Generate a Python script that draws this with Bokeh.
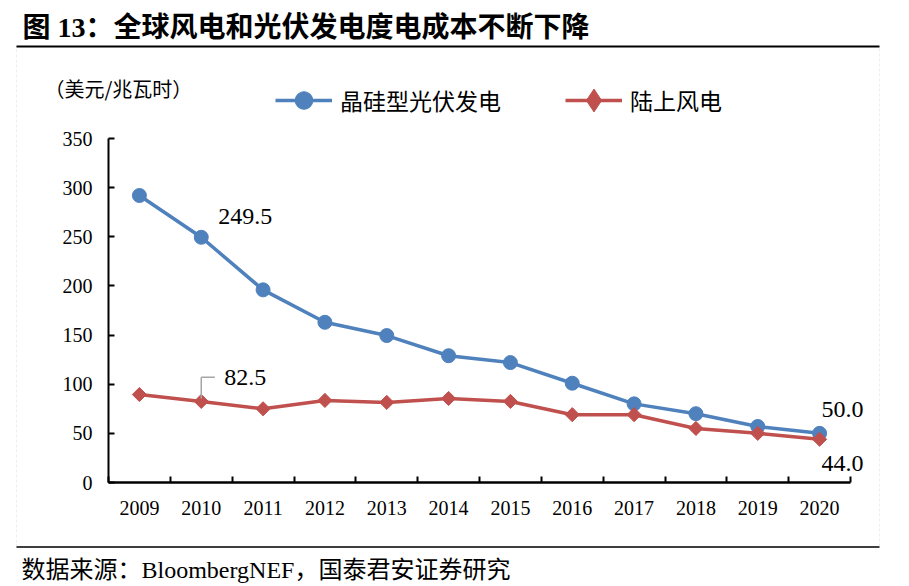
from bokeh.plotting import figure
from bokeh.models import (Range1d, FixedTicker, Label, Legend, LegendItem,
                          BoxAnnotation, Arrow)
from bokeh.embed import file_html
from bokeh.resources import INLINE
import math

# ---------------- data ----------------
years = ["2009", "2010", "2011", "2012", "2013", "2014",
         "2015", "2016", "2017", "2018", "2019", "2020"]
solar_pv = [292, 249.5, 196, 163, 149.5, 129, 122, 101, 80, 70, 57, 50.0]
onshore_wind = [89.5, 82.5, 75, 83.5, 81.5, 85.5, 82.5, 69, 69, 55, 50, 44.0]
y_ticks = [0, 50, 100, 150, 200, 250, 300, 350]

title_text = "图 13：全球风电和光伏发电度电成本不断下降"
unit_text = "（美元/兆瓦时）"
source_text = "数据来源：BloombergNEF，国泰君安证券研究"
solar_name = "晶硅型光伏发电"
wind_name = "陆上风电"

BLUE = "#4F81BD"
RED = "#C0504D"
SERIF = "Liberation Serif, Noto Sans CJK SC"

xs = [i + 0.5 for i in range(len(years))]
Y_MAX = y_ticks[-1]

# ---------------- geometry (canvas pixels) ----------------
W, H = 909, 586
AX_LEFT, AX_RIGHT = 108, 850      # x extent of the category axis
AX_BOTTOM, AX_TOP = 482, 138      # y pixel of value 0 and of value 350
cw = (AX_RIGHT - AX_LEFT) / len(years)
ppu = (AX_BOTTOM - AX_TOP) / Y_MAX

x_range = Range1d(-AX_LEFT / cw, (W - AX_LEFT) / cw)
y_range = Range1d(-(H - AX_BOTTOM) / ppu, AX_BOTTOM / ppu)

p = figure(width=W, height=H, output_backend="svg", toolbar_location=None,
           title=None, x_range=x_range, y_range=y_range,
           min_border=0, min_border_left=0, min_border_right=0,
           min_border_top=0, min_border_bottom=0)
p.grid.visible = False
p.outline_line_color = None
p.background_fill_color = "white"
p.border_fill_color = "white"

# x axis: labels at category centres, tick marks on category boundaries
xa = p.xaxis[0]
xa.fixed_location = 0
xa.bounds = (0, len(years))
xa.ticker = FixedTicker(ticks=xs, minor_ticks=list(range(len(years) + 1)))
xa.major_label_overrides = {x: y for x, y in zip(xs, years)}
xa.axis_line_width = 2.5
xa.axis_line_color = "black"
xa.major_tick_in = 0
xa.major_tick_out = 0
xa.minor_tick_in = 6
xa.minor_tick_out = 0
xa.minor_tick_line_width = 2
xa.minor_tick_line_color = "black"
xa.major_label_standoff = 18
xa.major_label_text_font = SERIF
xa.major_label_text_font_size = "20px"
xa.major_label_text_color = "black"

ya = p.yaxis[0]
ya.fixed_location = 0
ya.bounds = (0, Y_MAX)
ya.ticker = FixedTicker(ticks=y_ticks, minor_ticks=[])
ya.axis_line_width = 2
ya.axis_line_color = "black"
ya.major_tick_in = 6
ya.major_tick_out = 0
ya.major_tick_line_width = 2
ya.major_tick_line_color = "black"
ya.minor_tick_in = 0
ya.minor_tick_out = 0
ya.major_label_standoff = 16
ya.major_label_text_font = SERIF
ya.major_label_text_font_size = "20px"
ya.major_label_text_color = "black"

# series
l1 = p.line(xs, solar_pv, line_color=BLUE, line_width=3.5)
m1 = p.scatter(xs, solar_pv, marker="circle", size=14, fill_color=BLUE, line_color=BLUE)
l2 = p.line(xs, onshore_wind, line_color=RED, line_width=3.5)
m2 = p.scatter(xs, onshore_wind, marker="square", angle=math.pi / 4, size=10,
               fill_color=RED, line_color=RED)

# legend-only diamond proxy (NaN position: never drawn in the plot)
nan = float("nan")
k2 = p.scatter([nan], [nan], marker="diamond", size=20, fill_color=RED, line_color=RED)

# screen helpers (frame == whole canvas, y measured upward)
def sx(px):
    return px

def sy(py):
    return H - py

LEGEND_CY = 100  # vertical centre of the legend row (canvas px)

# legends (two, positioned individually; marker size follows glyph_height)
def make_legend(name, rends, px, gh):
    lg = Legend(items=[LegendItem(label=name, renderers=rends)],
                location=(sx(px), sy(LEGEND_CY + gh / 2)), padding=0, margin=0,
                spacing=0, glyph_width=57, glyph_height=gh, label_height=gh,
                label_standoff=8, label_text_font="Noto Sans CJK SC",
                label_text_font_size="23px", label_text_color="black",
                border_line_alpha=0, background_fill_alpha=0)
    p.add_layout(lg)

make_legend(solar_name, [l1, m1], 275, 44)
make_legend(wind_name, [l2, k2], 565, 58)

# chart box, title rule and bottom rule
p.add_layout(BoxAnnotation(left=sx(16), right=sx(879), top=sy(46), bottom=sy(546),
                           left_units="screen", right_units="screen",
                           top_units="screen", bottom_units="screen",
                           fill_alpha=0, line_color="#c8c8c8", line_width=1,
                           line_dash="3 2"))
p.add_layout(BoxAnnotation(left=sx(16), right=sx(879), top=sy(45), bottom=sy(47),
                           left_units="screen", right_units="screen",
                           top_units="screen", bottom_units="screen",
                           fill_color="black", fill_alpha=1, line_alpha=0))
p.add_layout(BoxAnnotation(left=sx(16), right=sx(879), top=sy(545.8), bottom=sy(547.2),
                           left_units="screen", right_units="screen",
                           top_units="screen", bottom_units="screen",
                           fill_color="black", fill_alpha=1, line_alpha=0))

# texts
p.add_layout(Label(x=sx(22), y=sy(27), x_units="screen", y_units="screen",
                   text=title_text, text_font=SERIF, text_font_size="28px",
                   text_font_style="bold", text_baseline="middle", text_color="black"))
p.add_layout(Label(x=sx(44), y=sy(88), x_units="screen", y_units="screen",
                   text=unit_text, text_font="Noto Sans CJK SC", text_font_size="20px",
                   text_baseline="middle", text_color="black"))
p.add_layout(Label(x=sx(21), y=sy(569), x_units="screen", y_units="screen",
                   text=source_text, text_font=SERIF, text_font_size="24px",
                   text_baseline="middle", text_color="black"))

# data labels
def dlabel(x, y, txt, dx, dy, align="left"):
    p.add_layout(Label(x=x, y=y, text=txt, x_offset=dx, y_offset=dy,
                       text_font=SERIF, text_font_size="24px",
                       text_align=align, text_baseline="middle", text_color="black"))

dlabel(xs[1], solar_pv[1], f"{solar_pv[1]:.1f}", 17, 21)
dlabel(xs[1], onshore_wind[1], f"{onshore_wind[1]:.1f}", 23, 24)
dlabel(xs[-1], solar_pv[-1], f"{solar_pv[-1]:.1f}", 44, 24, "right")
dlabel(xs[-1], onshore_wind[-1], f"{onshore_wind[-1]:.1f}", 44, -24, "right")

# leader line for the 82.5 callout
y_top = onshore_wind[1] + 24.5
p.add_layout(Arrow(end=None, x_start=xs[1], y_start=onshore_wind[1] + 3,
                   x_end=xs[1], y_end=y_top, line_color="#a6a6a6", line_width=1.5))
p.add_layout(Arrow(end=None, x_start=xs[1], y_start=y_top,
                   x_end=xs[1] + 0.22, y_end=y_top, line_color="#a6a6a6", line_width=1.5))

open("out.html", "w").write(file_html(p, INLINE))
